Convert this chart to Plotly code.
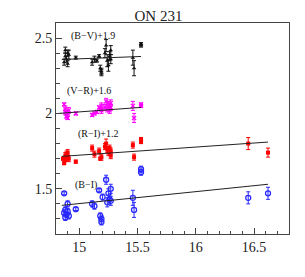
import plotly.graph_objects as go

# (B-V)+1.9
bv_x = [14.87, 14.88, 14.88, 14.89, 14.90, 14.90, 14.91, 14.97, 15.11, 15.13, 15.15,
        15.17, 15.18, 15.19, 15.19, 15.22, 15.23, 15.24, 15.25, 15.26, 15.27, 15.27,
        15.46, 15.47, 15.53, 15.53]
bv_y = [2.34, 2.38, 2.42, 2.36, 2.33, 2.40, 2.39, 2.37, 2.34, 2.36, 2.35,
        2.38, 2.30, 2.28, 2.27, 2.40, 2.45, 2.35, 2.32, 2.38, 2.42, 2.36,
        2.37, 2.30, 2.46, 2.45]
bv_e = [0.02, 0.02, 0.02, 0.02, 0.02, 0.02, 0.03, 0.01, 0.02, 0.02, 0.01,
        0.01, 0.02, 0.02, 0.02, 0.03, 0.04, 0.04, 0.04, 0.03, 0.03, 0.03,
        0.05, 0.05, 0.01, 0.01]

# (V-R)+1.6
vr_x = [14.87, 14.88, 14.88, 14.89, 14.90, 14.90, 14.91, 14.97, 15.11, 15.13, 15.15,
        15.17, 15.18, 15.19, 15.19, 15.22, 15.23, 15.24, 15.25, 15.26, 15.27, 15.27,
        15.46, 15.47, 15.53, 15.53]
vr_y = [2.06, 2.01, 2.03, 1.98, 1.97, 2.00, 2.02, 2.00, 1.99, 2.00, 2.01,
        2.04, 2.03, 2.02, 2.05, 2.04, 2.08, 2.03, 2.06, 2.02, 2.07, 2.04,
        2.05, 1.97, 2.05, 2.06]
vr_e = [0.01, 0.02, 0.02, 0.01, 0.01, 0.02, 0.02, 0.01, 0.01, 0.01, 0.01,
        0.01, 0.01, 0.02, 0.02, 0.02, 0.02, 0.02, 0.02, 0.02, 0.02, 0.02,
        0.03, 0.03, 0.01, 0.01]

# (R-I)+1.2
ri_x = [14.86, 14.87, 14.88, 14.88, 14.89, 14.90, 14.90, 14.91, 14.97, 15.11, 15.13,
        15.17, 15.18, 15.19, 15.22, 15.23, 15.24, 15.25, 15.26, 15.27, 15.27,
        15.46, 15.47, 15.53, 15.53, 16.45, 16.62]
ri_y = [1.70, 1.67, 1.72, 1.69, 1.73, 1.74, 1.71, 1.70, 1.68, 1.77, 1.73,
        1.75, 1.70, 1.71, 1.78, 1.80, 1.76, 1.74, 1.77, 1.72, 1.75,
        1.79, 1.71, 1.83, 1.81, 1.80, 1.74]
ri_e = [0.01, 0.01, 0.02, 0.01, 0.02, 0.02, 0.02, 0.02, 0.01, 0.02, 0.02,
        0.02, 0.01, 0.02, 0.02, 0.03, 0.02, 0.02, 0.02, 0.02, 0.02,
        0.02, 0.02, 0.01, 0.01, 0.04, 0.03]

# (B-I)
bi_x = [14.87, 14.87, 14.88, 14.88, 14.89, 14.90, 14.90, 14.91, 14.97, 15.11, 15.13,
        15.17, 15.18, 15.19, 15.19, 15.20, 15.23, 15.24, 15.25, 15.26, 15.27, 15.27,
        15.46, 15.47, 15.53, 15.53, 16.45, 16.62]
bi_y = [1.47, 1.34, 1.36, 1.31, 1.33, 1.40, 1.35, 1.32, 1.365, 1.40, 1.385,
        1.49, 1.32, 1.30, 1.28, 1.445, 1.56, 1.41, 1.47, 1.43, 1.42, 1.50,
        1.44, 1.36, 1.63, 1.61, 1.44, 1.47]
bi_e = [0.01, 0.02, 0.02, 0.02, 0.02, 0.02, 0.02, 0.02, 0.01, 0.02, 0.02,
        0.01, 0.02, 0.02, 0.02, 0.02, 0.03, 0.03, 0.03, 0.03, 0.03, 0.03,
        0.05, 0.05, 0.02, 0.02, 0.04, 0.04]

# linear fits (end points)
bv_fit_x = [14.85, 15.53]
bv_fit_y = [2.358, 2.378]
vr_fit_x = [14.82, 15.53]
vr_fit_y = [2.000, 2.040]
ri_fit_x = [14.85, 16.62]
ri_fit_y = [1.715, 1.810]
bi_fit_x = [14.85, 16.62]
bi_fit_y = [1.390, 1.530]

labels = ["(B\u2212V)+1.9", "(V\u2212R)+1.6", "(R\u2212I)+1.2", "(B\u2212I)"]
label_x = [15.12, 15.08, 15.16, 15.06]
label_y = [2.517, 2.152, 1.866, 1.528]

FONT = "Liberation Serif"

fig = go.Figure()

series = [
    (bv_x, bv_y, bv_e, "#111111", "triangle-up", 4),
    (vr_x, vr_y, vr_e, "#ff00ff", "x-thin", 4),
    (ri_x, ri_y, ri_e, "#ff0000", "square", 4),
    (bi_x, bi_y, bi_e, "#2828ff", "circle-open", 5),
]
for x, y, e, c, sym, sz in series:
    marker = dict(color=c, symbol=sym, size=sz)
    if sym in ("x-thin", "circle-open"):
        marker["line"] = dict(color=c, width=1.3)
    fig.add_trace(go.Scatter(
        x=x, y=y, mode="markers", marker=marker,
        error_y=dict(type="data", array=e, color=c, thickness=1, width=2),
        showlegend=False, hoverinfo="skip"))

for fx, fy in [(bv_fit_x, bv_fit_y), (vr_fit_x, vr_fit_y),
               (ri_fit_x, ri_fit_y), (bi_fit_x, bi_fit_y)]:
    fig.add_trace(go.Scatter(x=fx, y=fy, mode="lines",
                             line=dict(color="#222222", width=1),
                             showlegend=False, hoverinfo="skip"))

for t, lx, ly in zip(labels, label_x, label_y):
    fig.add_annotation(x=lx, y=ly, text=t, showarrow=False,
                       font=dict(family=FONT, size=10, color="#111111"))

axis_common = dict(showgrid=False, zeroline=False, showline=True, mirror=True,
                   linecolor="#444444", linewidth=1, ticks="inside",
                   tickcolor="#444444", tickfont=dict(family=FONT, size=14, color="#222222"))

fig.update_xaxes(range=[14.8, 16.8], dtick=0.5, tick0=15, ticklen=6,
                 minor=dict(ticks="inside", dtick=0.1, ticklen=3, tickcolor="#444444"),
                 **axis_common)
fig.update_yaxes(range=[1.2, 2.6], tickvals=[1.5, 2, 2.5], ticktext=["1.5", "2", "2.5"],
                 ticklen=6,
                 minor=dict(ticks="inside", dtick=0.1, tick0=1.2, ticklen=4, tickcolor="#444444"),
                 **axis_common)

# page body has an 8px default margin, so the figure is sized/offset to compensate
W, H = 297, 269
fig.update_layout(
    width=W, height=H,
    margin=dict(l=48, r=16, t=15, b=43),
    paper_bgcolor="white", plot_bgcolor="white",
    title=dict(text="ON 231", xref="container", x=150.5 / W, xanchor="center",
               y=1 - 7.5 / H, yanchor="middle",
               font=dict(family=FONT, size=15, color="#222222")),
)

fig.write_html("out.html")
